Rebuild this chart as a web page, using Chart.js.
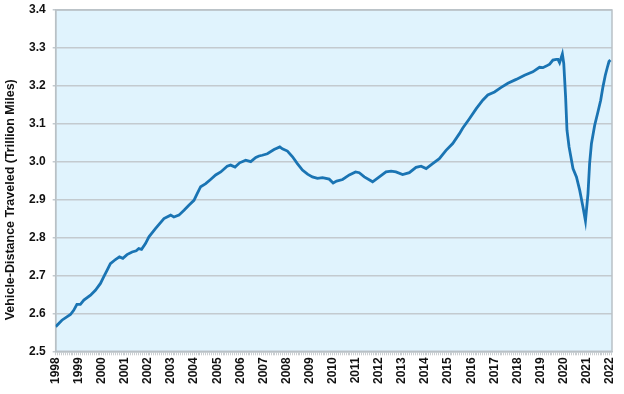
<!DOCTYPE html>
<html>
<head>
<meta charset="utf-8">
<script src="https://cdn.jsdelivr.net/npm/chart.js@4"></script>
<style>
  html, body { margin: 0; padding: 0; background: #ffffff; }
  #wrap { width: 624px; height: 394px; }
</style>
</head>
<body>
<div id="wrap"><canvas id="vmtChart" width="624" height="394"></canvas></div>
<script>
// moving 12-month total (decimal year, trillion miles)
const years = [
  1998.00, 1998.27, 1998.64, 1998.78, 1998.92, 1999.07, 1999.22, 1999.51, 1999.72, 1999.94,
  2000.08, 2000.23, 2000.37, 2000.59, 2000.76, 2000.91, 2001.09, 2001.31, 2001.49, 2001.60,
  2001.72, 2001.89, 2002.04, 2002.33, 2002.69, 2002.98, 2003.12, 2003.34, 2003.56, 2003.77,
  2003.99, 2004.13, 2004.28, 2004.50, 2004.71, 2004.93, 2005.15, 2005.43, 2005.58, 2005.77,
  2005.97, 2006.23, 2006.45, 2006.67, 2006.81, 2006.95, 2007.17, 2007.46, 2007.71, 2007.82,
  2008.04, 2008.26, 2008.47, 2008.69, 2008.91, 2009.12, 2009.34, 2009.56, 2009.85, 2010.02,
  2010.17, 2010.43, 2010.72, 2010.99, 2011.15, 2011.37, 2011.73, 2012.02, 2012.31, 2012.53,
  2012.74, 2013.03, 2013.32, 2013.61, 2013.83, 2014.05, 2014.33, 2014.62, 2014.91, 2015.20,
  2015.49, 2015.63, 2015.93, 2016.22, 2016.50, 2016.72, 2017.01, 2017.30, 2017.59, 2017.95,
  2018.31, 2018.67, 2018.96, 2019.11, 2019.25, 2019.40, 2019.54, 2019.69, 2019.76, 2019.83,
  2019.95, 2020.01, 2020.09, 2020.15, 2020.24, 2020.41, 2020.56, 2020.70, 2020.84, 2020.95,
  2021.06, 2021.13, 2021.21, 2021.35, 2021.49, 2021.61, 2021.71, 2021.81, 2021.90, 2021.97,
  2022.03
];
const vmt = [
  2.565, 2.582, 2.597, 2.608, 2.624, 2.624, 2.635, 2.648, 2.661, 2.679,
  2.696, 2.714, 2.731, 2.742, 2.749, 2.745, 2.755, 2.762, 2.765, 2.771,
  2.769, 2.784, 2.802, 2.824, 2.850, 2.859, 2.854, 2.859, 2.872, 2.885,
  2.898, 2.916, 2.934, 2.942, 2.953, 2.965, 2.973, 2.988, 2.991, 2.986,
  2.997, 3.004, 3.000, 3.011, 3.015, 3.017, 3.021, 3.032, 3.039, 3.034,
  3.028, 3.013, 2.995, 2.978, 2.967, 2.960, 2.956, 2.958, 2.954, 2.944,
  2.949, 2.953, 2.965, 2.973, 2.971, 2.960, 2.947, 2.960, 2.973, 2.975,
  2.973, 2.966, 2.971, 2.985, 2.988, 2.982, 2.995, 3.008, 3.030, 3.048,
  3.074, 3.088, 3.114, 3.140, 3.162, 3.176, 3.184, 3.196, 3.207, 3.217,
  3.228, 3.237, 3.249, 3.248, 3.252, 3.257, 3.268, 3.270, 3.270, 3.261,
  3.284, 3.259, 3.171, 3.083, 3.039, 2.982, 2.960, 2.925, 2.881, 2.844,
  2.916, 2.995, 3.048, 3.096, 3.131, 3.162, 3.198, 3.228, 3.249, 3.264,
  3.268
];
const firstYear = 1998;
const lastYear = 2022;
const yMin = 2.5, yMax = 3.4, yStep = 0.1;

const points = years.map((x, i) => ({x: x, y: vmt[i]}));

// light blue plot area with grey frame
const plotBackground = {
  id: 'plotBackground',
  beforeDraw(chart) {
    const {ctx, chartArea} = chart;
    ctx.save();
    ctx.fillStyle = '#e0f3fd';
    ctx.fillRect(chartArea.left, chartArea.top, chartArea.width, chartArea.height);
    ctx.restore();
  },
  beforeDatasetsDraw(chart) {
    const {ctx, chartArea} = chart;
    ctx.save();
    ctx.strokeStyle = '#b9c1c6';
    ctx.lineWidth = 1.5;
    ctx.strokeRect(chartArea.left, chartArea.top, chartArea.width, chartArea.height);
    ctx.restore();
  }
};

const tickFont = {family: "'Liberation Sans', Arial, sans-serif", size: 12, weight: 'bold'};

new Chart(document.getElementById('vmtChart'), {
  type: 'line',
  data: {
    datasets: [{
      data: points,
      borderColor: '#1a74b3',
      borderWidth: 2.8,
      pointRadius: 0,
      tension: 0,
      fill: false
    }]
  },
  options: {
    responsive: false,
    animation: false,
    layout: {padding: {top: 10, right: 12, left: 3, bottom: 8}},
    plugins: {
      legend: {display: false},
      tooltip: {enabled: false}
    },
    scales: {
      x: {
        type: 'linear',
        min: firstYear,
        max: lastYear + 0.1,
        afterBuildTicks(axis) {
          const t = [];
          for (let m = 0; m <= (lastYear - firstYear) * 12 + 1; m++) t.push({value: firstYear + m / 12});
          axis.ticks = t;
        },
        afterFit(axis) {
          axis.paddingRight = 0;
        },
        ticks: {
          autoSkip: false,
          minRotation: 90,
          maxRotation: 90,
          padding: 2,
          color: '#111111',
          font: tickFont,
          callback: (v) => Math.abs(v - Math.round(v)) < 1e-6 ? String(Math.round(v)) : ''
        },
        grid: {drawOnChartArea: false, tickLength: 4, color: '#c9cdd0', lineWidth: 1},
        border: {display: true, color: '#b9c1c6', width: 1.5}
      },
      y: {
        min: yMin,
        max: yMax,
        afterFit(axis) {
          axis.paddingTop = 0;
        },
        ticks: {
          stepSize: yStep,
          padding: 7,
          color: '#111111',
          font: tickFont,
          callback: (v) => Number(v).toFixed(1)
        },
        grid: {color: '#c3cacf', lineWidth: 1.5, tickLength: 3},
        border: {display: true, color: '#b9c1c6', width: 1.5},
        title: {
          display: true,
          // trailing spaces push the title a little below the axis centre, as in the original
          text: 'Vehicle-Distance Traveled (Trillion Miles)           ',
          color: '#111111',
          font: {family: "'Liberation Sans', Arial, sans-serif", size: 12.5, weight: 'bold'},
          padding: {top: 0, bottom: 4}
        }
      }
    }
  },
  plugins: [plotBackground]
});
</script>
</body>
</html>
